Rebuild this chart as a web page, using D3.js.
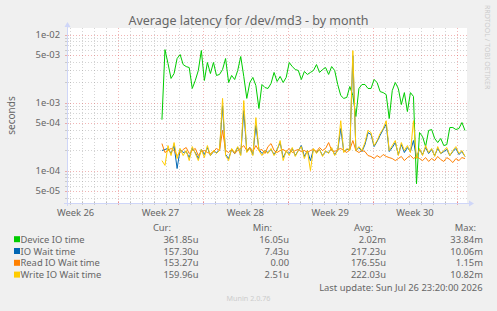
<!DOCTYPE html>
<html>
<head>
<meta charset="utf-8">
<title>Average latency for /dev/md3 - by month</title>
<style>
  body { margin: 0; background: #F0F0F0; }
  svg { display: block; font-family: "Noto Sans", sans-serif; }
</style>
<script src="https://cdn.jsdelivr.net/npm/d3@7"></script>
</head>
<body>
<script>
const width = 497, height = 311;
const plotLeft = 67, plotTop = 28, plotW = 400, plotH = 175;

// 33 day window, one sample every 6 hours from dataStart
const startTime = new Date(Date.UTC(2026, 5, 24, 19, 0));
const endTime = d3.utcDay.offset(startTime, 33);
const dataStart = new Date(Date.UTC(2026, 6, 2, 15, 0));
const stepHours = 6;

const seriesNames = ["Device IO time", "IO Wait time", "Read IO Wait time", "Write IO Wait time"];
const seriesColors = ["#00CC00", "#0066B3", "#FF8000", "#FFCC00"];

const deviceIO = [
  5.6e-4, 6.0e-3, 3.75e-3, 2.26e-3, 2.67e-3, 4.44e-3, 5.08e-3, 3.62e-3, 3.38e-3, 3.27e-3,
  1.61e-3, 2.11e-3, 2.96e-3, 5.82e-3, 2.11e-3, 3.88e-3, 2.67e-3, 3.88e-3, 2.5e-3, 2.59e-3,
  3.06e-3, 4.44e-3, 1.97e-3, 2.5e-3, 2.18e-3, 2.96e-3, 4.75e-3, 2.42e-3, 1.15e-3, 1.97e-3,
  2.34e-3, 1.78e-3, 8.16e-4, 1.84e-3, 1.66e-3, 1.61e-3, 1.91e-3, 2.77e-3, 2.04e-3, 2.42e-3,
  1.97e-3, 2.34e-3, 3.88e-3, 3.38e-3, 3.06e-3, 2.96e-3, 2.18e-3, 2.86e-3, 2.59e-3, 2.77e-3,
  2.96e-3, 3.62e-3, 2.77e-3, 3.06e-3, 3.27e-3, 2.59e-3, 3.38e-3, 2.96e-3, 1.84e-3, 1.27e-3,
  1.15e-3, 1.19e-3, 1.72e-3, 1.27e-3, 6.23e-4, 1.61e-3, 1.84e-3, 1.84e-3, 1.61e-3, 1.61e-3,
  2.18e-3, 1.97e-3, 1.45e-3, 1.4e-3, 1.31e-3, 5.82e-4, 1.5e-3, 1.97e-3, 1.61e-3, 9.34e-4,
  1.4e-3, 7.37e-4, 1.4e-3, 1.23e-3, 6.4e-5, 3.62e-4, 3.16e-4, 2.25e-4, 3.88e-4, 4.01e-4,
  2.96e-4, 2.58e-4, 2.96e-4, 2.33e-4, 2.41e-4, 4.29e-4, 4.29e-4, 4.01e-4, 4.15e-4, 5.08e-4,
  3.88e-4
];
const ioWait = [
  1.97e-4, 2.04e-4, 2.11e-4, 1.78e-4, 2.33e-4, 1.07e-4, 2.04e-4, 1.84e-4, 1.9e-4, 1.55e-4,
  2.11e-4, 1.84e-4, 1.5e-4, 2.04e-4, 1.72e-4, 2.18e-4, 1.66e-4, 1.9e-4, 1.84e-4, 1.97e-4,
  9.0e-4, 1.72e-4, 1.5e-4, 2.04e-4, 1.78e-4, 2.18e-4, 1.72e-4, 7.6e-4, 1.9e-4, 2.18e-4,
  1.72e-4, 4.6e-4, 2.04e-4, 1.78e-4, 1.97e-4, 1.84e-4, 2.04e-4, 1.72e-4, 2.04e-4, 2.58e-4,
  1.55e-4, 1.9e-4, 1.78e-4, 2.11e-4, 1.66e-4, 1.97e-4, 2.33e-4, 1.61e-4, 1.97e-4, 1.4e-4,
  2.04e-4, 1.84e-4, 2.04e-4, 1.66e-4, 1.9e-4, 1.84e-4, 2.11e-4, 1.72e-4, 1.97e-4, 4.15e-4,
  1.9e-4, 2.04e-4, 2.04e-4, 4.9e-3, 1.97e-4, 2.18e-4, 1.9e-4, 2.41e-4, 3.6e-4, 3.4e-4,
  2.25e-4, 2.67e-4, 3.3e-4, 4.0e-4, 4.8e-4, 1.9e-4, 2.18e-4, 2.58e-4, 1.72e-4, 2.41e-4,
  1.84e-4, 2.18e-4, 1.9e-4, 2.76e-4, 1.55e-4, 2.04e-4, 1.72e-4, 2.18e-4, 1.78e-4, 2.04e-4,
  1.66e-4, 2.11e-4, 1.78e-4, 1.9e-4, 2.04e-4, 1.66e-4, 1.9e-4, 2.11e-4, 1.72e-4, 1.9e-4,
  1.61e-4
];
const readWait = [
  2.49e-4, 1.84e-4, 1.97e-4, 2.11e-4, 1.97e-4, 1.66e-4, 1.84e-4, 2.04e-4, 2.18e-4, 1.78e-4,
  1.97e-4, 2.11e-4, 1.66e-4, 1.9e-4, 1.97e-4, 1.84e-4, 1.78e-4, 1.9e-4, 2.11e-4, 1.97e-4,
  3.9e-4, 1.97e-4, 1.84e-4, 2.04e-4, 1.78e-4, 1.97e-4, 2.11e-4, 2.33e-4, 1.97e-4, 2.18e-4,
  1.9e-4, 2.33e-4, 1.97e-4, 2.04e-4, 1.78e-4, 2.25e-4, 2.49e-4, 1.97e-4, 1.84e-4, 1.97e-4,
  2.04e-4, 1.9e-4, 2.11e-4, 1.84e-4, 1.97e-4, 2.04e-4, 1.9e-4, 1.97e-4, 1.84e-4, 1.97e-4,
  2.04e-4, 1.9e-4, 2.18e-4, 1.97e-4, 2.11e-4, 2.58e-4, 1.97e-4, 1.9e-4, 2.04e-4, 2.11e-4,
  1.97e-4, 1.84e-4, 2.04e-4, 2.76e-4, 1.97e-4, 1.84e-4, 1.97e-4, 1.9e-4, 1.66e-4, 1.61e-4,
  1.5e-4, 1.66e-4, 1.55e-4, 1.72e-4, 1.61e-4, 1.55e-4, 1.5e-4, 1.4e-4, 1.5e-4, 1.61e-4,
  1.4e-4, 1.55e-4, 1.66e-4, 1.5e-4, 1.61e-4, 1.5e-4, 1.4e-4, 1.55e-4, 1.36e-4, 1.5e-4,
  1.4e-4, 1.61e-4, 1.45e-4, 1.36e-4, 1.55e-4, 1.45e-4, 1.31e-4, 1.5e-4, 1.4e-4, 1.55e-4,
  1.5e-4
];
const writeWait = [
  1.4e-4, 1.19e-4, 2.33e-4, 1.66e-4, 2.58e-4, 1.5e-4, 2.11e-4, 1.66e-4, 1.97e-4, 1.4e-4,
  2.25e-4, 1.78e-4, 1.4e-4, 2.04e-4, 1.55e-4, 2.33e-4, 1.66e-4, 1.97e-4, 1.78e-4, 1.97e-4,
  1.15e-3, 1.66e-4, 1.4e-4, 2.11e-4, 1.84e-4, 2.25e-4, 1.66e-4, 1.07e-3, 1.84e-4, 2.11e-4,
  1.66e-4, 6.0e-4, 1.97e-4, 1.66e-4, 1.97e-4, 1.78e-4, 2.11e-4, 1.66e-4, 1.97e-4, 2.76e-4,
  1.4e-4, 1.97e-4, 1.66e-4, 2.18e-4, 1.61e-4, 1.97e-4, 2.25e-4, 1.5e-4, 1.97e-4, 1.0e-4,
  2.11e-4, 1.78e-4, 2.04e-4, 1.61e-4, 1.97e-4, 1.78e-4, 2.18e-4, 1.66e-4, 1.97e-4, 5.4e-4,
  1.84e-4, 2.11e-4, 1.97e-4, 5.8e-3, 1.97e-4, 2.25e-4, 1.97e-4, 2.58e-4, 3.9e-4, 3.6e-4,
  2.33e-4, 2.76e-4, 3.5e-4, 4.15e-4, 5.4e-4, 1.97e-4, 2.33e-4, 2.76e-4, 1.66e-4, 2.58e-4,
  1.97e-4, 2.33e-4, 1.84e-4, 5.4e-4, 1.5e-4, 2.11e-4, 1.66e-4, 2.33e-4, 1.84e-4, 2.11e-4,
  1.61e-4, 2.25e-4, 1.78e-4, 1.97e-4, 2.18e-4, 1.66e-4, 1.97e-4, 2.25e-4, 1.78e-4, 1.97e-4,
  1.61e-4
];

const curVals = ["361.85u", "157.30u", "153.27u", "159.96u"];
const minVals = ["16.05u", "7.43u", "0.00", "2.51u"];
const avgVals = ["2.02m", "217.23u", "176.55u", "222.03u"];
const maxVals = ["33.84m", "10.06m", "1.15m", "10.82m"];

const yTickValues = [1e-2, 5e-3, 1e-3, 5e-4, 1e-4, 5e-5];
const yTickLabels = ["1e-02", "5e-03", "1e-03", "5e-04", "1e-04", "5e-05"];

const svg = d3.select("body").append("svg")
  .attr("width", width)
  .attr("height", height);

svg.append("rect")
  .attr("width", width).attr("height", height)
  .attr("fill", "#F0F0F0");

svg.append("rect")
  .attr("x", plotLeft).attr("y", plotTop)
  .attr("width", plotW).attr("height", plotH)
  .attr("fill", "#FFFFFF");

const x = d3.scaleUtc().domain([startTime, endTime]).range([plotLeft, plotLeft + plotW]);
const y = d3.scaleLog().domain([3.33e-5, 1.248e-2]).range([plotTop + plotH, plotTop]);

const minorColor = "rgba(143,143,143,0.38)";
const majorColor = "rgba(222,79,79,0.42)";
const crisp = v => Math.round(v) + 0.5;

const grid = svg.append("g").attr("shape-rendering", "crispEdges");

// vertical grid: days minor, mondays major
const days = d3.utcDay.range(d3.utcDay.ceil(startTime), endTime);
days.forEach(d => {
  const major = d.getUTCDay() === 1;
  const xp = crisp(x(d));
  const c = major ? majorColor : minorColor;
  grid.append("line")
    .attr("x1", xp).attr("x2", xp)
    .attr("y1", plotTop).attr("y2", plotTop + plotH)
    .attr("stroke", c).attr("stroke-dasharray", "1,2");
  grid.append("line")
    .attr("x1", xp).attr("x2", xp)
    .attr("y1", plotTop + plotH - 2).attr("y2", plotTop + plotH + 2)
    .attr("stroke", c);
});

// horizontal grid: log minor at 1..9, major at 1 and 5
const logLines = [];
for (let e = -5; e <= -2; e++) {
  for (let m = 1; m <= 9; m++) {
    const v = m * Math.pow(10, e);
    if (v >= y.domain()[0] && v <= y.domain()[1]) logLines.push({v, major: m === 1 || m === 5});
  }
}
logLines.forEach(l => {
  const yp = crisp(y(l.v));
  const c = l.major ? majorColor : minorColor;
  grid.append("line")
    .attr("x1", plotLeft).attr("x2", plotLeft + plotW)
    .attr("y1", yp).attr("y2", yp)
    .attr("stroke", c).attr("stroke-dasharray", "1,2");
  grid.append("line")
    .attr("x1", plotLeft - 2).attr("x2", plotLeft + 2)
    .attr("y1", yp).attr("y2", yp)
    .attr("stroke", c);
});

// axes
const axisColor = "#CFD6F8";
grid.append("line")
  .attr("x1", plotLeft - 3).attr("x2", plotLeft + plotW + 3)
  .attr("y1", crisp(plotTop + plotH)).attr("y2", crisp(plotTop + plotH))
  .attr("stroke", axisColor);
grid.append("line")
  .attr("x1", crisp(plotLeft)).attr("x2", crisp(plotLeft))
  .attr("y1", plotTop - 3).attr("y2", plotTop + plotH + 3)
  .attr("stroke", axisColor);
svg.append("path")
  .attr("d", `M${plotLeft + plotW + 2},${plotTop + plotH - 2.5}L${plotLeft + plotW + 7},${plotTop + plotH + 0.5}L${plotLeft + plotW + 2},${plotTop + plotH + 3.5}Z`)
  .attr("fill", axisColor);
svg.append("path")
  .attr("d", `M${plotLeft - 2.5},${plotTop - 1}L${plotLeft + 0.5},${plotTop - 6}L${plotLeft + 3.5},${plotTop - 1}Z`)
  .attr("fill", axisColor);

// lines
const times = deviceIO.map((_, i) => d3.utcHour.offset(dataStart, i * stepHours));
const line = d3.line()
  .x((d, i) => x(times[i]))
  .y(d => y(d));

svg.append("clipPath").attr("id", "clip")
  .append("rect")
  .attr("x", plotLeft).attr("y", plotTop)
  .attr("width", plotW).attr("height", plotH);

const lines = svg.append("g").attr("clip-path", "url(#clip)");
[deviceIO, ioWait, readWait, writeWait].forEach((s, k) => {
  lines.append("path")
    .datum(s)
    .attr("d", line)
    .attr("fill", "none")
    .attr("stroke", seriesColors[k])
    .attr("stroke-width", 1);
});

const fontColor = "#666666";

// title
svg.append("text")
  .attr("x", width / 2).attr("y", 25)
  .attr("text-anchor", "middle")
  .attr("font-size", 12.5)
  .attr("fill", fontColor)
  .text("Average latency for /dev/md3 - by month");

// y tick labels
svg.append("g").selectAll("text")
  .data(yTickValues)
  .enter().append("text")
    .attr("x", plotLeft - 7)
    .attr("y", d => y(d) + 3.3)
    .attr("text-anchor", "end")
    .attr("font-size", 9.4)
    .attr("fill", fontColor)
    .text((d, i) => yTickLabels[i]);

// x labels, centered in each week, only when the centre is inside the plot
const mondays = d3.utcMonday.range(d3.utcMonday.floor(startTime), endTime)
  .filter(d => d3.utcHour.offset(d, 84) < endTime);
svg.append("g").selectAll("text")
  .data(mondays)
  .enter().append("text")
    .attr("x", d => x(d3.utcHour.offset(d, 84)))
    .attr("y", 216)
    .attr("text-anchor", "middle")
    .attr("font-size", 9.4)
    .attr("fill", fontColor)
    .text(d => "Week " + d3.utcFormat("%V")(d));

// unit label
svg.append("text")
  .attr("transform", `translate(14.5,${plotTop + plotH / 2}) rotate(-90)`)
  .attr("text-anchor", "middle")
  .attr("font-size", 10)
  .attr("fill", fontColor)
  .text("seconds");

// watermark on the right
svg.append("text")
  .attr("transform", "translate(485,5) rotate(90)")
  .attr("font-size", 7)
  .attr("fill", "#CCCCCC")
  .text("RRDTOOL / TOBI OETIKER");

// legend
const legend = svg.append("g").attr("font-size", 9.4).attr("fill", fontColor);
const headerY = 230.7, rowY0 = 242.7, rowStep = 11.8;
const cols = [
  {title: "Cur:", vals: curVals, titleX: 171, valX: 198.5},
  {title: "Min:", vals: minVals, titleX: 272, valX: 289},
  {title: "Avg:", vals: avgVals, titleX: 373, valX: 386},
  {title: "Max:", vals: maxVals, titleX: 476, valX: 483}
];
cols.forEach(c => {
  legend.append("text")
    .attr("x", c.titleX).attr("y", headerY)
    .attr("text-anchor", "end")
    .text(c.title);
  c.vals.forEach((v, i) => {
    legend.append("text")
      .attr("x", c.valX).attr("y", rowY0 + i * rowStep)
      .attr("text-anchor", "end")
      .text(v);
  });
});
seriesNames.forEach((n, i) => {
  legend.append("rect")
    .attr("x", 14).attr("y", rowY0 + i * rowStep - 6.5)
    .attr("width", 6).attr("height", 6)
    .attr("fill", seriesColors[i]);
  legend.append("text")
    .attr("x", 20.5).attr("y", rowY0 + i * rowStep)
    .text(n);
});

legend.append("text")
  .attr("x", 482.5).attr("y", 290.7)
  .attr("text-anchor", "end")
  .text("Last update: Sun Jul 26 23:20:00 2026");

svg.append("text")
  .attr("x", width / 2).attr("y", 301)
  .attr("text-anchor", "middle")
  .attr("font-size", 7.2)
  .attr("fill", "#CCCCCC")
  .text("Munin 2.0.76");
</script>
</body>
</html>
